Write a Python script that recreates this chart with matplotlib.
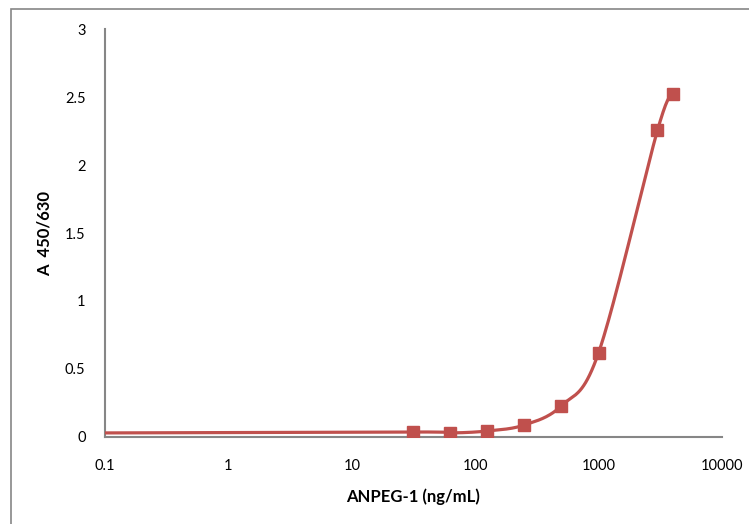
import numpy as np
import matplotlib
matplotlib.use("Agg")
import matplotlib.pyplot as plt
from matplotlib.patches import Rectangle

# concentrations (ng/mL) and absorbance
conc = [31.25, 62.5, 125, 250, 500, 1000, 3000, 4000]
absorb = [0.037, 0.030, 0.044, 0.088, 0.230, 0.620, 2.255, 2.525]

# smoothed line also starts at the left edge of the axis
line_x = [0.1] + conc
line_y = [0.030] + absorb

x_ticks = [0.1, 1, 10, 100, 1000, 10000]
x_ticklabels = ["0.1", "1", "10", "100", "1000", "10000"]
y_ticks = [0, 0.5, 1, 1.5, 2, 2.5, 3]
y_ticklabels = ["0", "0.5", "1", "1.5", "2", "2.5", "3"]

red = "#C0504D"
grey = "#868686"
plt.rcParams['font.family'] = ['Lato', 'DejaVu Sans']

fig = plt.figure(figsize=(7.49, 5.24), dpi=100)
ax = fig.add_axes([105 / 749, 87 / 524, 617 / 749, 408 / 524])

# Excel-style smoothed line: Bezier segments in screen-like units
u = np.log10(line_x) * 123.4
v = np.array(line_y) * 136.0
pts = np.column_stack([u, v])
n = len(pts)
su, sv = [], []
for i in range(n - 1):
    p0 = pts[max(i - 1, 0)]
    p1 = pts[i]
    p2 = pts[i + 1]
    p3 = pts[min(i + 2, n - 1)]
    c1 = p1 + (p2 - p0) / 6.0
    c2 = p2 - (p3 - p1) / 6.0
    t = np.linspace(0, 1, 40)[:, None]
    seg = ((1 - t) ** 3) * p1 + 3 * ((1 - t) ** 2) * t * c1 + 3 * (1 - t) * t ** 2 * c2 + t ** 3 * p2
    su.extend(seg[:, 0])
    sv.extend(seg[:, 1])
smooth_x = 10 ** (np.array(su) / 123.4)
smooth_y = np.array(sv) / 136.0

ax.plot(smooth_x, smooth_y, color=red, linewidth=2.3, solid_capstyle='butt', zorder=3)
ax.plot(conc, absorb, linestyle='none', marker='s', markersize=8,
        color=red, markeredgecolor=red, zorder=4)

ax.set_xscale('log')
ax.set_xlim(0.1, 10000)
ax.set_ylim(0, 3)
ax.set_xticks(x_ticks)
ax.set_xticklabels(x_ticklabels)
ax.set_yticks(y_ticks)
ax.set_yticklabels(y_ticklabels)
ax.minorticks_off()
ax.tick_params(axis='both', length=0, labelsize=10.5, colors='black')
ax.tick_params(axis='x', pad=16)
ax.tick_params(axis='y', pad=14)

for side in ['top', 'right']:
    ax.spines[side].set_visible(False)
for side in ['left', 'bottom']:
    ax.spines[side].set_color(grey)
    ax.spines[side].set_linewidth(1.5)

ax.set_xlabel("ANPEG-1 (ng/mL)", fontsize=12, fontweight='bold', labelpad=11)
ax.set_ylabel("A  450/630", fontsize=12, fontweight='bold', labelpad=9)

# outer chart frame
fig.patches.append(Rectangle((11 / 749, -0.1), 1.0, 1 - 9 / 524 + 0.1,
                             transform=fig.transFigure, fill=False,
                             edgecolor=grey, linewidth=1.2))

fig.savefig("out.png", dpi=100)
